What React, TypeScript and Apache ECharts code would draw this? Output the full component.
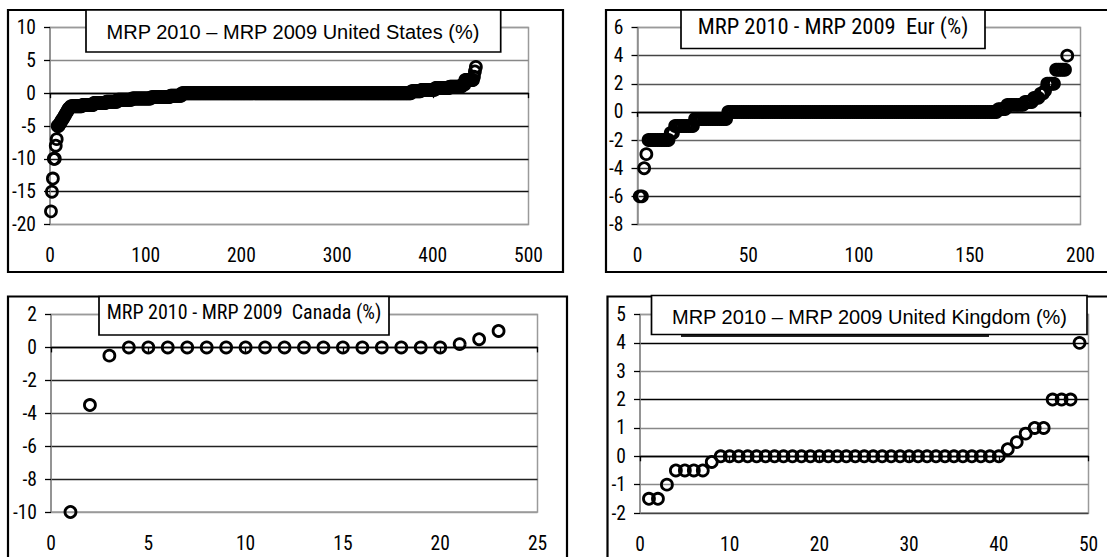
import React, { useEffect, useRef } from "react";
import * as echarts from "echarts";

// ---------- DATA ----------
// US: sorted differences, given as [value, count] runs
const usRuns: [number, number][] = [
  [-18, 1], [-15, 1], [-13, 1], [-10, 2], [-8, 1], [-7, 1], [-5, 2],
  [-4.7, 1], [-4.5, 1], [-4.2, 1], [-4, 1], [-3.8, 1], [-3.5, 1], [-3.3, 1],
  [-3, 1], [-2.8, 1], [-2.5, 1], [-2.3, 1], [-2.2, 1], [-2, 12], [-1.8, 12],
  [-1.5, 13], [-1.3, 12], [-1, 15], [-0.8, 20], [-0.6, 20], [-0.4, 12],
  [0, 240], [0.3, 10], [0.5, 15], [0.8, 15], [1, 13], [1.3, 3], [2, 9],
  [2.5, 1], [3.3, 1], [4, 1],
];
// Europe: sorted differences, [value, count] runs
const eurRuns: [number, number][] = [
  [-6, 2], [-4, 1], [-3, 1], [-2, 10], [-1.5, 2], [-1, 9], [-0.5, 15],
  [0, 122], [0.2, 4], [0.5, 8], [0.7, 4], [1, 3], [1.3, 2], [1.5, 1],
  [2, 4], [3, 5], [4, 1],
];
const canadaValues: number[] = [
  -10, -3.5, -0.5, 0, 0, 0, 0, 0, 0, 0, 0, 0, 0, 0, 0, 0, 0, 0, 0, 0, 0.2, 0.5, 1,
];
const ukValues: number[] = [
  -1.5, -1.5, -1, -0.5, -0.5, -0.5, -0.5, -0.2,
  0, 0, 0, 0, 0, 0, 0, 0, 0, 0, 0, 0, 0, 0, 0, 0,
  0, 0, 0, 0, 0, 0, 0, 0, 0, 0, 0, 0, 0, 0, 0, 0,
  0.25, 0.5, 0.8, 1, 1, 2, 2, 2, 4,
];

const titles = [
  "MRP 2010 \u2013 MRP 2009 United States (%)",
  "MRP 2010 - MRP 2009  Eur (%)",
  "MRP 2010 - MRP 2009  Canada (%)",
  "MRP 2010 \u2013 MRP 2009 United Kingdom (%)",
];
const xMax = [500, 200, 25, 50];
const xStep = [100, 50, 5, 10];
const yMin = [-20, -8, -10, -2];
const yMax = [10, 6, 2, 5];
const yStep = [5, 2, 2, 1];

// ---------- LAYOUT / STYLE ----------
const grids = [
  { left: 50, top: 27.5, width: 478.5, height: 197 },
  { left: 637.5, top: 27.5, width: 443, height: 197 },
  { left: 51, top: 314.5, width: 486.5, height: 197.5 },
  { left: 640, top: 314.5, width: 448.5, height: 198.5 },
];
// gridline colours, from the minimum upwards
const gridColors = [
  ["#9a9a9a", "#111", "#111", "#111", "#000", "#888", "#9a9a9a"],
  ["#9a9a9a", "#222", "#333", "#666", "#000", "#555", "#444", "#9a9a9a"],
  ["#9a9a9a", "#222", "#222", "#555", "#222", "#000", "#9a9a9a"],
  ["#444", "#888", "#000", "#888", "#000", "#888", "#000", "#9a9a9a"],
];
const outerBoxes = [
  { x: 8, y: 10, width: 555, height: 262 },
  { x: 606, y: 10, width: 530, height: 262 },
  { x: 8, y: 296.5, width: 559, height: 290 },
  { x: 607.5, y: 296.5, width: 530, height: 290 },
];
const titleBoxes = [
  { x: 86, y: 10, width: 414.7, height: 42 },
  { x: 681, y: 10, width: 304, height: 38.5 },
  { x: 99, y: 296.5, width: 290, height: 38.5 },
  { x: 651.5, y: 295.5, width: 435.5, height: 39 },
];
const titlePos = [
  { x: 293, y: 32, size: 20, narrow: false },
  { x: 833, y: 26, size: 22.5, narrow: true },
  { x: 244, y: 312, size: 20, narrow: true },
  { x: 869.5, y: 316.5, size: 20, narrow: false },
];

function expandRuns(runs: [number, number][]): number[] {
  const out: number[] = [];
  runs.forEach(([v, n]) => {
    for (let i = 0; i < n; i++) out.push(v);
  });
  return out;
}

function pickFont(cands: string[]): string | null {
  const ctx = document.createElement("canvas").getContext("2d");
  if (!ctx) return null;
  const s = "MRP 2010 0123456789 Canada Eur";
  ctx.font = "40px monospace";
  const base = ctx.measureText(s).width;
  for (const f of cands) {
    ctx.font = `40px "${f}", monospace`;
    if (Math.abs(ctx.measureText(s).width - base) > 0.5) return f;
  }
  return null;
}

export default function App() {
  const ref = useRef<HTMLDivElement>(null);
  useEffect(() => {
    if (!ref.current) return;
    const chart = echarts.init(ref.current, null, { renderer: "svg" });
    const narrow = pickFont(["Liberation Sans Narrow", "Arial Narrow", "Roboto Condensed", "Open Sans Condensed"]);
    const regular = "'Liberation Sans', Arial, sans-serif";
    const narrowFam = narrow ? `'${narrow}', ${regular}` : regular;
    const narrowScale = narrow ? 1 : 0.82;
    const labelFont = narrow ? narrowFam : "'DejaVu Sans Condensed', " + regular;
    const labelSize = narrow ? 19.5 : 16;

    const seriesValues = [expandRuns(usRuns), expandRuns(eurRuns), canadaValues, ukValues];

    const xAxis: any[] = [];
    const yAxis: any[] = [];
    const series: any[] = [];
    for (let k = 0; k < 4; k++) {
      xAxis.push({
        type: "value", gridIndex: k, min: 0, max: xMax[k], interval: xStep[k], position: "bottom",
        axisLine: { show: true, onZero: true, lineStyle: { color: "#000", width: 1.4 } },
        axisTick: { show: true, length: 5, lineStyle: { color: "#000", width: 1.3 } },
        axisLabel: { show: false }, splitLine: { show: false },
      });
      xAxis.push({
        type: "value", gridIndex: k, min: 0, max: xMax[k], interval: xStep[k], position: "bottom",
        axisLine: { show: false, onZero: false }, axisTick: { show: false },
        axisLabel: { show: true, margin: 21, color: "#000", fontSize: labelSize, fontFamily: labelFont },
        splitLine: { show: false },
      });
      yAxis.push({
        type: "value", gridIndex: k, min: yMin[k], max: yMax[k], interval: yStep[k],
        axisLine: { show: true, onZero: false, lineStyle: { color: "#8a8a8a", width: 1.5 } },
        axisTick: { show: true, length: 6, lineStyle: { color: "#000", width: 1.3 } },
        axisLabel: { margin: 14, color: "#000", fontSize: labelSize, fontFamily: labelFont },
        splitLine: { show: true, lineStyle: { color: gridColors[k], width: 1.3 } },
      });
      series.push({
        type: "scatter", xAxisIndex: 2 * k, yAxisIndex: k, silent: true,
        symbol: "circle", symbolSize: 11,
        itemStyle: { color: "rgba(0,0,0,0)", borderColor: "#000", borderWidth: 2.8, opacity: 1 },
        emphasis: { disabled: true },
        data: seriesValues[k].map((v, i) => [i + 1, v]),
        z: 3,
      });
    }

    const graphic: any[] = [];
    outerBoxes.forEach((b) =>
      graphic.push({ type: "rect", z: 100, shape: b, style: { fill: "none", stroke: "#000", lineWidth: 2.2 } })
    );
    graphic.push({ type: "line", z: 100, shape: { x1: 681, y1: 336, x2: 989, y2: 336 }, style: { stroke: "#222", lineWidth: 2 } });
    titleBoxes.forEach((b, k) => {
      graphic.push({ type: "rect", z: 101, shape: b, style: { fill: "#fff", stroke: "#000", lineWidth: 1.7 } });
      const t = titlePos[k];
      graphic.push({
        type: "text", z: 102, x: t.x, y: t.y, scaleX: t.narrow ? narrowScale : 1,
        style: {
          text: titles[k], fill: "#000", fontSize: t.size,
          fontFamily: t.narrow ? narrowFam : regular, align: "center", verticalAlign: "middle",
        },
      });
    });

    chart.setOption({
      animation: false,
      backgroundColor: "#fff",
      grid: grids.map((g) => ({ ...g, show: true, borderColor: "#9a9a9a", borderWidth: 1.5, containLabel: false })),
      xAxis, yAxis, series, graphic,
    });
    return () => chart.dispose();
  }, []);
  return (
    <div
      ref={ref}
      style={{ position: "absolute", left: 0, top: 0, width: 1107, height: 557, background: "#fff" }}
    />
  );
}
